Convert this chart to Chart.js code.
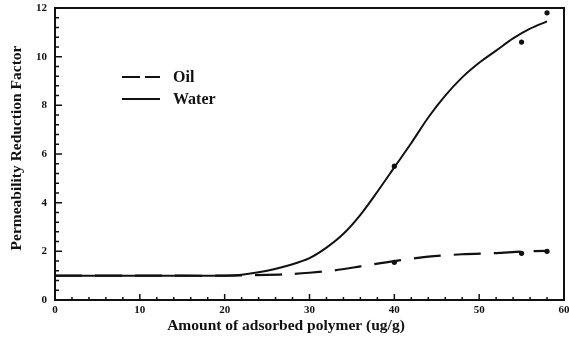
<!DOCTYPE html>
<html>
<head>
<meta charset="utf-8">
<script src="https://cdn.jsdelivr.net/npm/chart.js@4.4.1/dist/chart.umd.min.js"></script>
<style>
  html, body { margin: 0; padding: 0; background: #fff; }
  #wrap { width: 569px; height: 349px; position: relative; }
</style>
</head>
<body>
<div id="wrap"><canvas id="c" width="569" height="349"></canvas></div>
<script>
// Fitted curves (adsorbed polymer, ug/g -> permeability reduction factor)
const waterCurveX = [0, 10, 20, 22, 25, 28, 30, 32, 34, 36, 38, 40, 42, 44, 46, 48, 50, 52, 54, 56, 58];
const waterCurveY = [1.0, 1.0, 1.0, 1.04, 1.2, 1.47, 1.72, 2.15, 2.72, 3.5, 4.45, 5.45, 6.45, 7.5, 8.4, 9.15, 9.75, 10.25, 10.75, 11.15, 11.45];
const oilCurveX = [0, 10, 20, 25, 28, 30, 33, 36, 40, 44, 48, 52, 55, 58];
const oilCurveY = [1.0, 1.0, 1.0, 1.03, 1.07, 1.12, 1.22, 1.38, 1.6, 1.78, 1.88, 1.93, 1.99, 2.02];

// Measured points
const waterPointsX = [40, 55, 58];
const waterPointsY = [5.5, 10.6, 11.8];
const oilPointsX = [40, 55, 58];
const oilPointsY = [1.55, 1.92, 2.0];

// Axis ranges and ticks
const xTicks = [0, 10, 20, 30, 40, 50, 60];
const yTicks = [0, 2, 4, 6, 8, 10, 12];
const xMinorStep = 2;
const yMinorStep = 0.4;

const seriesNames = ['Oil', 'Water'];
const xTitle = 'Amount of adsorbed polymer (ug/g)';
const yTitle = 'Permeability Reduction Factor';

const INK = '#111';
const SERIF = '"Liberation Serif", "DejaVu Serif", serif';

function pairs(xs, ys) { return xs.map((x, i) => ({ x: x, y: ys[i] })); }

const OIL_DASH = [27, 13];

// Frame, inward ticks, axis titles and the in-plot legend
const framePlugin = {
  id: 'frame',
  afterDraw(chart) {
    const ctx = chart.ctx;
    const a = chart.chartArea;
    const xs = chart.scales.x, ys = chart.scales.y;
    ctx.save();
    ctx.strokeStyle = INK;
    ctx.lineWidth = 2;
    ctx.strokeRect(a.left, a.top, a.right - a.left, a.bottom - a.top);

    ctx.lineWidth = 1.5;
    ctx.beginPath();
    const xMin = xTicks[0], xMax = xTicks[xTicks.length - 1];
    for (let i = 0; xMin + i * xMinorStep <= xMax + 1e-9; i++) {
      const v = xMin + i * xMinorStep;
      const px = xs.getPixelForValue(v);
      const major = xTicks.some(t => Math.abs(t - v) < 1e-6);
      ctx.moveTo(px, a.bottom);
      ctx.lineTo(px, a.bottom - (major ? 6 : 3));
    }
    const yMin = yTicks[0], yMax = yTicks[yTicks.length - 1];
    for (let i = 0; yMin + i * yMinorStep <= yMax + 1e-9; i++) {
      const v = yMin + i * yMinorStep;
      const py = ys.getPixelForValue(v);
      const major = yTicks.some(t => Math.abs(t - v) < 1e-6);
      ctx.moveTo(a.left, py);
      ctx.lineTo(a.left + (major ? 7 : 4), py);
    }
    ctx.stroke();

    // axis titles
    ctx.fillStyle = INK;
    ctx.font = 'bold 15.5px ' + SERIF;
    ctx.textAlign = 'center';
    ctx.textBaseline = 'middle';
    ctx.fillText(xTitle, 286, 326);
    ctx.save();
    ctx.translate(17, 148);
    ctx.rotate(-Math.PI / 2);
    ctx.fillText(yTitle, 0, 0);
    ctx.restore();

    // legend
    const lx0 = 122, lx1 = 160;
    ctx.lineWidth = 2.2;
    ctx.beginPath();
    ctx.setLineDash([18, 5]);
    ctx.moveTo(lx0, 77); ctx.lineTo(lx1, 77);
    ctx.stroke();
    ctx.setLineDash([]);
    ctx.beginPath();
    ctx.moveTo(lx0, 99); ctx.lineTo(lx1, 99);
    ctx.stroke();
    ctx.font = 'bold 16px ' + SERIF;
    ctx.textAlign = 'left';
    ctx.fillText(seriesNames[0], 173, 78);
    ctx.fillText(seriesNames[1], 173, 100);
    ctx.restore();
  }
};

new Chart(document.getElementById('c'), {
  type: 'scatter',
  data: {
    datasets: [
      {
        label: seriesNames[0],
        data: pairs(oilCurveX, oilCurveY),
        showLine: true,
        borderColor: INK,
        borderWidth: 2.2,
        borderDash: OIL_DASH,
        pointRadius: 0,
        tension: 0.3
      },
      {
        label: seriesNames[1],
        data: pairs(waterCurveX, waterCurveY),
        showLine: true,
        borderColor: INK,
        borderWidth: 2,
        pointRadius: 0,
        tension: 0.3
      },
      {
        label: seriesNames[0] + ' data',
        data: pairs(oilPointsX, oilPointsY),
        showLine: false,
        pointRadius: 2.6,
        pointBackgroundColor: INK,
        pointBorderColor: INK,
        pointBorderWidth: 0
      },
      {
        label: seriesNames[1] + ' data',
        data: pairs(waterPointsX, waterPointsY),
        showLine: false,
        pointRadius: 2.6,
        pointBackgroundColor: INK,
        pointBorderColor: INK,
        pointBorderWidth: 0
      }
    ]
  },
  options: {
    responsive: false,
    animation: false,
    devicePixelRatio: 1,
    layout: { padding: { top: 8, right: 5, left: 0, bottom: 0 } },
    plugins: { legend: { display: false }, tooltip: { enabled: false } },
    scales: {
      x: {
        type: 'linear',
        min: xTicks[0],
        max: xTicks[xTicks.length - 1],
        grid: { display: false, drawTicks: false },
        border: { display: false },
        afterBuildTicks(scale) { scale.ticks = xTicks.map(v => ({ value: v })); },
        afterFit(scale) { scale.height = 49; scale.paddingLeft = 0; scale.paddingRight = 0; },
        ticks: {
          padding: 4,
          color: INK,
          font: { family: SERIF, size: 11, weight: 'bold' }
        }
      },
      y: {
        type: 'linear',
        min: yTicks[0],
        max: yTicks[yTicks.length - 1],
        grid: { display: false, drawTicks: false },
        border: { display: false },
        afterBuildTicks(scale) { scale.ticks = yTicks.map(v => ({ value: v })); },
        afterFit(scale) { scale.width = 55; scale.paddingTop = 0; scale.paddingBottom = 0; },
        ticks: {
          padding: 8,
          color: INK,
          font: { family: SERIF, size: 11, weight: 'bold' }
        }
      }
    }
  },
  plugins: [framePlugin]
});
</script>
</body>
</html>
